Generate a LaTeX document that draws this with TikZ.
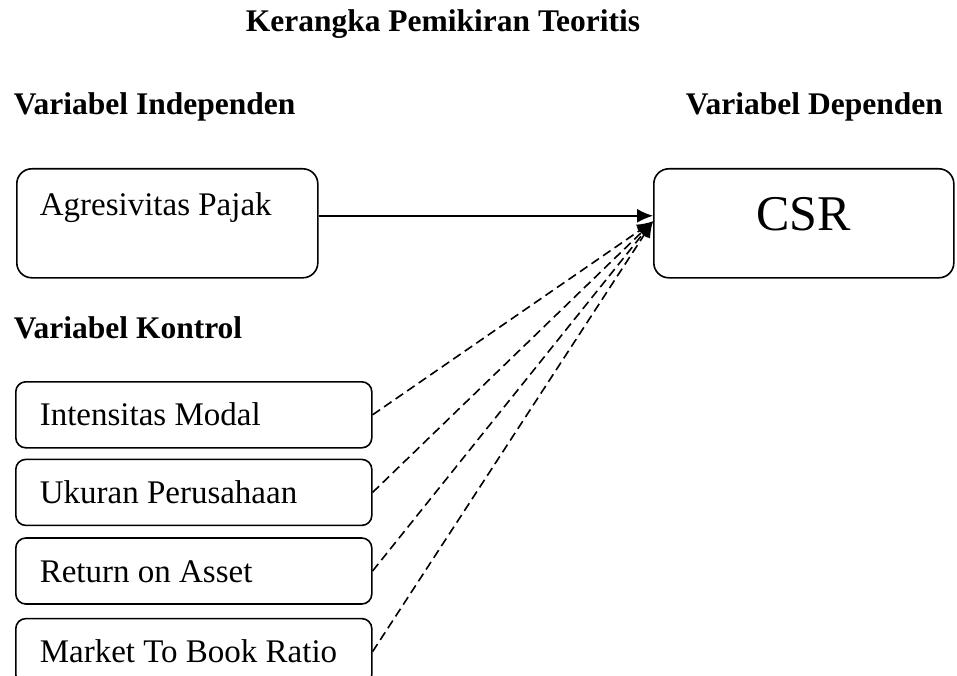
\documentclass[tikz,border=0pt]{standalone}
\usepackage{fontspec}
\setmainfont{Liberation Serif}
\usetikzlibrary{arrows.meta, positioning}
\tikzset{>={Latex[length=16pt,width=14pt]}}
\tikzset{
  heading/.style={anchor=base west, inner sep=0, font=\fontsize{31.5}{36}\selectfont\bfseries},
  varbox/.style={rectangle, draw=black, rounded corners=15pt, inner xsep=23pt, inner ysep=0, text width=255pt, align=flush left, text height=47pt, text depth=62pt, font=\fontsize{33}{38}\selectfont},
  csrbox/.style={rectangle, draw=black, rounded corners=15pt, inner xsep=0, inner ysep=0, text width=300pt, align=flush center, text height=62pt, text depth=47pt, font=\fontsize{50}{56}\selectfont},
  ctrlbox/.style={rectangle, draw=black, rounded corners=10pt, inner xsep=24pt, inner ysep=0, text width=308pt, align=flush left, text height=44pt, text depth=22pt, font=\fontsize{33}{38}\selectfont},
  dasharrow/.style={->, dash pattern=on 9pt off 5pt}
}

\begin{document}
\begin{tikzpicture}[x=1pt, y=-1pt, line width=1.6pt]
  \useasboundingbox (0,0) rectangle (957,676);
  % Labels
  \node[heading] (judul) at (245,32) {Kerangka Pemikiran Teoritis};
  \node[heading] (indep) at (13,115) {Variabel Independen};
  \node[heading] (dep) at (685,115) {Variabel Dependen};
  \node[heading] (kontrol) at (13,338) {Variabel Kontrol};

  % Nodes
  \node[varbox, anchor=north west] (pajak) at (16,168) {Agresivitas Pajak};
  \node[csrbox, anchor=north west] (csr) at (653,168) {CSR};
  \node[ctrlbox, anchor=north west] (modal) at (15,381) {Intensitas Modal};
  \node[ctrlbox, below=10pt of modal] (ukuran) {Ukuran Perusahaan};
  \node[ctrlbox, below=11pt of ukuran] (roa) {Return on Asset};
  \node[ctrlbox, below=13pt of roa] (mtb) {Market To Book Ratio};

  % Arrows
  \draw[->] ([yshift=7.5pt]pajak.east) -- ([yshift=7.5pt]csr.west);
  \foreach \v in {modal, ukuran, roa, mtb}
    \draw[dasharrow] (\v.east) -- ([yshift=2pt]csr.west);
\end{tikzpicture}
\end{document}
